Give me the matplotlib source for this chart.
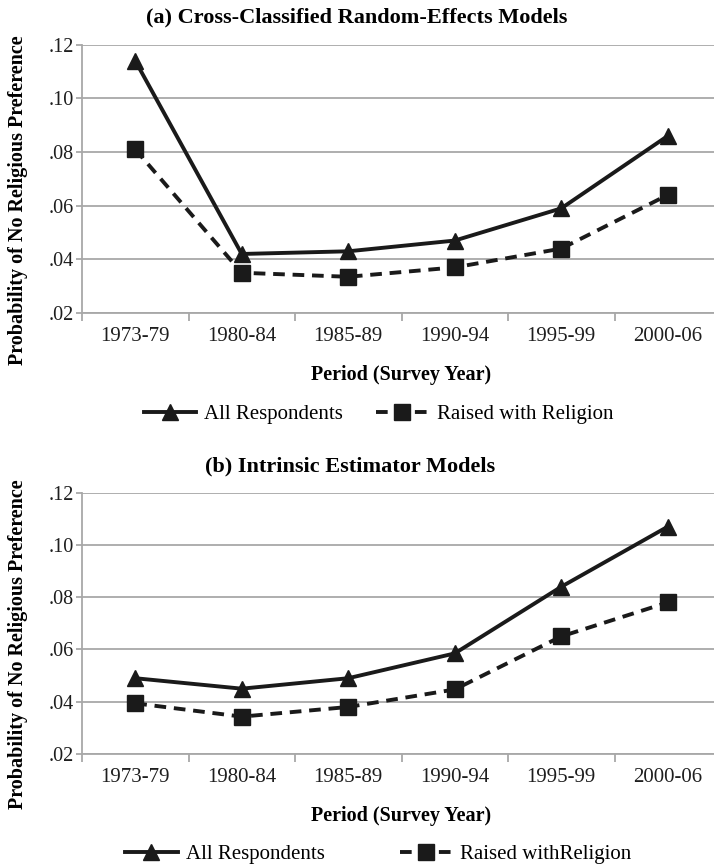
import matplotlib
matplotlib.use("Agg")
import matplotlib.pyplot as plt
import numpy as np

plt.rcParams['font.family'] = ['Liberation Serif', 'DejaVu Serif']

periods = ["1973-79", "1980-84", "1985-89", "1990-94", "1995-99", "2000-06"]
y_ticks = [0.02, 0.04, 0.06, 0.08, 0.10, 0.12]
y_tick_labels = [".02", ".04", ".06", ".08", ".10", ".12"]

# (a) Cross-Classified Random-Effects Models
ccrem_all = [0.114, 0.042, 0.043, 0.047, 0.059, 0.086]
ccrem_raised = [0.081, 0.035, 0.0335, 0.037, 0.044, 0.064]

# (b) Intrinsic Estimator Models
ie_all = [0.049, 0.045, 0.049, 0.0585, 0.084, 0.107]
ie_raised = [0.0394, 0.0343, 0.038, 0.0447, 0.065, 0.078]

W, H = 714, 867
line_col = '#1a1a1a'
grid_col = '#a8a8a8'
text_col = '#1e1e1e'


def px(x0, y0, x1, y1):
    # pixel box (top-left origin) -> figure fraction rect
    return [x0 / W, 1 - y1 / H, (x1 - x0) / W, (y1 - y0) / H]


def draw_panel(fig, rect, all_vals, raised_vals, raised_label, title, title_xy,
               legend_y, colspace):
    ax = fig.add_axes(rect)
    x = np.arange(len(periods))
    ax.plot(x, all_vals, color=line_col, lw=2.8, marker='^', markersize=12,
            label='All Respondents', zorder=3)
    ax.plot(x, raised_vals, color=line_col, lw=2.8, ls=(0, (3, 2)), marker='s',
            markersize=11, label=raised_label, zorder=3)

    ax.set_xlim(-0.5, len(periods) - 0.5)
    ax.set_ylim(0.02, 0.12)
    ax.set_yticks(y_ticks)
    ax.set_yticklabels(y_tick_labels, fontsize=14.5, color=text_col)
    ax.yaxis.grid(True, color=grid_col, lw=1.3)
    ax.set_axisbelow(True)

    # tick marks between categories, labels under categories
    ax.set_xticks(np.arange(len(periods) + 1) - 0.5)
    ax.set_xticklabels([])
    ax.set_xticks(x, minor=True)
    ax.set_xticklabels(periods, minor=True, fontsize=15, color=text_col)
    ax.tick_params(axis='x', which='major', length=6, width=1.3, color=grid_col)
    ax.tick_params(axis='x', which='minor', length=0, pad=10)
    ax.tick_params(axis='y', length=4, width=1.3, color=grid_col, pad=2)

    for s in ['top', 'right']:
        ax.spines[s].set_visible(False)
    for s in ['left', 'bottom']:
        ax.spines[s].set_color(grid_col)
        ax.spines[s].set_linewidth(1.3)

    ax.set_xlabel('Period (Survey Year)', fontsize=14.5, fontweight='bold', labelpad=14)
    ax.set_ylabel('Probability of No Religious Preference', fontsize=14.5,
                  fontweight='bold')
    ax.yaxis.set_label_coords(-0.085, 0.42)

    fig.text(title_xy[0] / W, 1 - title_xy[1] / H, title, fontsize=16,
             fontweight='bold', ha='center', va='center')

    ax.legend(loc='center', bbox_to_anchor=(0.53, 1 - legend_y / H),
              bbox_transform=fig.transFigure, ncol=2, frameon=False,
              fontsize=15, handlelength=2.5, handletextpad=0.4,
              columnspacing=colspace)
    return ax


fig = plt.figure(figsize=(W / 100, H / 100), dpi=100)
draw_panel(fig, px(82, 44.7, 721, 313), ccrem_all, ccrem_raised,
           'Raised with Religion',
           '(a) Cross-Classified Random-Effects Models', (357, 17), 414, 1.6)
draw_panel(fig, px(82, 492.7, 721, 754), ie_all, ie_raised,
           'Raised withReligion',
           '(b) Intrinsic Estimator Models', (350, 466), 854, 3.6)

fig.savefig('out.png', dpi=100)
